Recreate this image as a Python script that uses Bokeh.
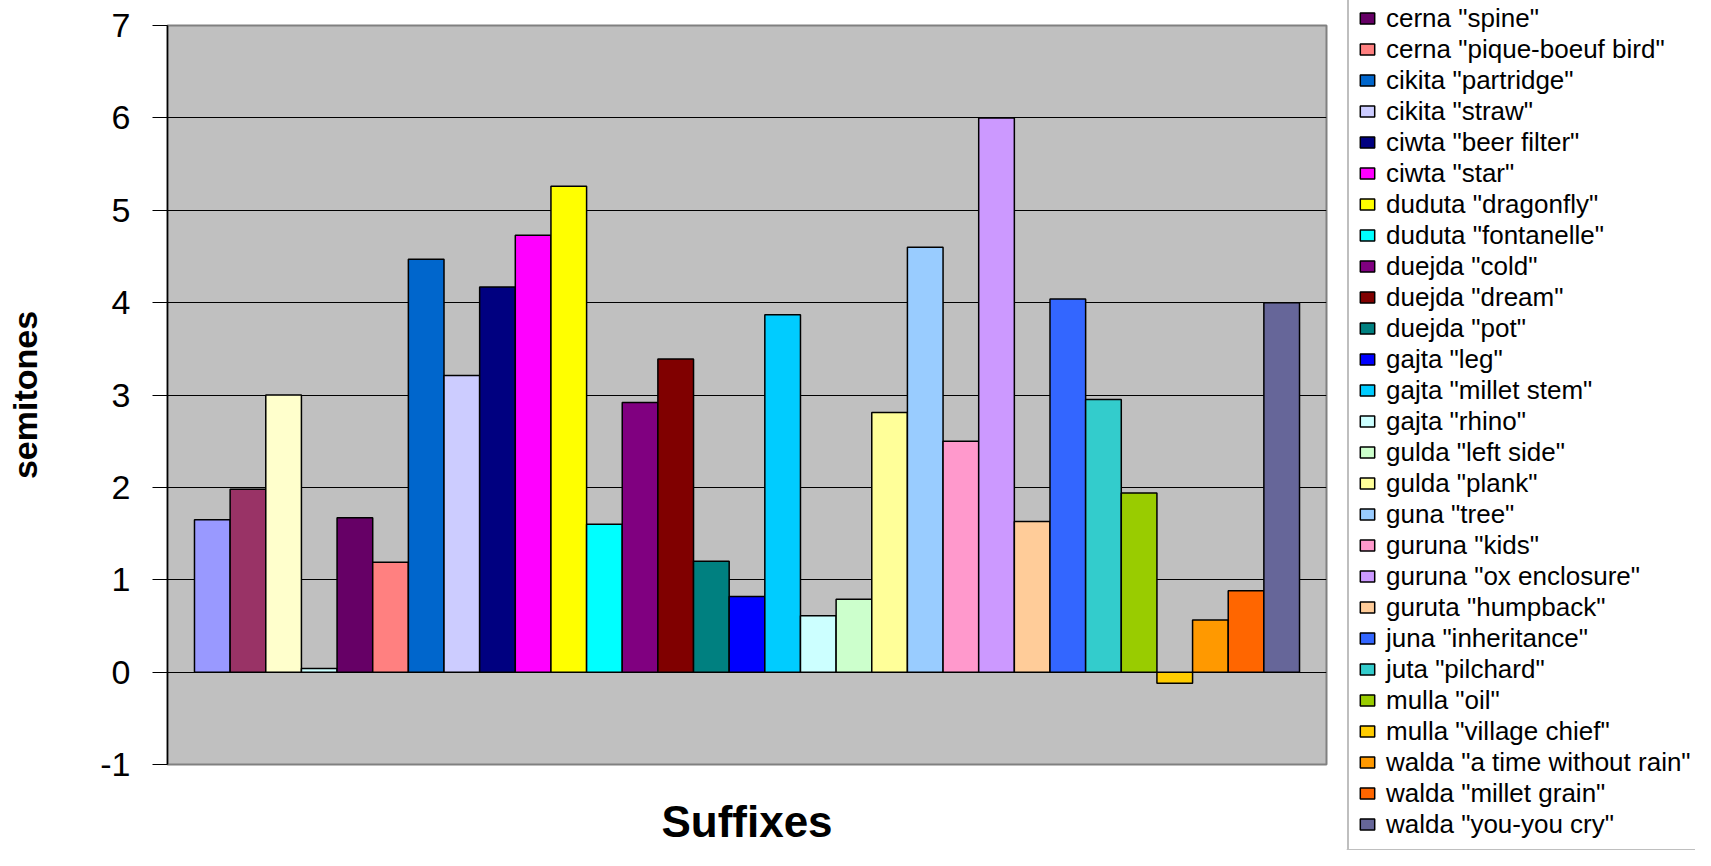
from bokeh.plotting import figure
from bokeh.models import (ColumnDataSource, Range1d, FixedTicker, Legend, LegendItem,
                          PrintfTickFormatter)
from bokeh.layouts import row
from bokeh.embed import file_html
from bokeh.resources import INLINE

# The first four series' legend entries are cut off in the reference (names not visible)
hidden_count = 4
series_names = [
    'cerna "spine"', 'cerna "pique-boeuf bird"', 'cikita "partridge"', 'cikita "straw"',
    'ciwta "beer filter"', 'ciwta "star"', 'duduta "dragonfly"', 'duduta "fontanelle"',
    'duejda "cold"', 'duejda "dream"', 'duejda "pot"', 'gajta "leg"',
    'gajta "millet stem"', 'gajta "rhino"', 'gulda "left side"', 'gulda "plank"',
    'guna "tree"', 'guruna "kids"', 'guruna "ox enclosure"', 'guruta "humpback"',
    'juna "inheritance"', 'juta "pilchard"', 'mulla "oil"', 'mulla "village chief"',
    'walda "a time without rain"', 'walda "millet grain"', 'walda "you-you cry"',
]
values = [1.65, 1.98, 3.00, 0.04,
          1.67, 1.19, 4.47, 3.21, 4.17, 4.73, 5.26, 1.60, 2.92, 3.39, 1.20, 0.82,
          3.87, 0.61, 0.79, 2.81, 4.60, 2.50, 6.00, 1.63, 4.04, 2.95, 1.94, -0.12,
          0.565, 0.88, 4.00]
colors = ["#9999FF", "#993366", "#FFFFCC", "#CCFFFF", "#660066", "#FF8080", "#0066CC",
          "#CCCCFF", "#000080", "#FF00FF", "#FFFF00", "#00FFFF", "#800080", "#800000",
          "#008080", "#0000FF", "#00CCFF", "#CCFFFF", "#CCFFCC", "#FFFF99", "#99CCFF",
          "#FF99CC", "#CC99FF", "#FFCC99", "#3366FF", "#33CCCC", "#99CC00", "#FFCC00",
          "#FF9900", "#FF6600", "#666699"]
y_ticks = [-1, 0, 1, 2, 3, 4, 5, 6, 7]

n = len(values)
src = ColumnDataSource(dict(x=list(range(n)), top=values, color=colors))

FONT = "Liberation Sans"
H = 850
TOP, BOTTOM = 25, 86

# ---------------- main chart ----------------
p = figure(width=1346, height=H, output_backend="svg", toolbar_location=None,
           x_range=Range1d(-1.257, n - 1 + 1.257), y_range=Range1d(-1, 7),
           min_border_left=167, min_border_right=20, min_border_top=TOP,
           min_border_bottom=BOTTOM)
p.frame_align = False
p.title.visible = False
p.background_fill_color = "#C0C0C0"
p.border_fill_color = "white"
p.outline_line_color = "#808080"
p.outline_line_width = 2

r = p.vbar(x="x", top="top", bottom=0, width=1.0, fill_color="color",
           line_color="black", line_width=1.5, source=src)

p.xgrid.visible = False
p.ygrid.grid_line_color = "black"
p.ygrid.grid_line_width = 1
p.ygrid.ticker = FixedTicker(ticks=y_ticks)

ya = p.yaxis[0]
ya.ticker = FixedTicker(ticks=y_ticks)
ya.formatter = PrintfTickFormatter(format="%d")
ya.major_tick_out = 15
ya.major_tick_in = 0
ya.minor_tick_out = 0
ya.minor_tick_in = 0
ya.axis_line_color = "black"
ya.axis_line_width = 1.5
ya.major_tick_line_color = "black"
ya.major_label_text_font = FONT
ya.major_label_text_font_size = "34px"
ya.major_label_text_color = "black"
ya.major_label_standoff = 22
ya.axis_label = "semitones"
ya.axis_label_text_font = FONT
ya.axis_label_text_font_style = "bold"
ya.axis_label_text_font_size = "34px"
ya.axis_label_text_color = "black"
ya.axis_label_standoff = 53

xa = p.xaxis[0]
xa.ticker = FixedTicker(ticks=[])
xa.major_tick_out = 0
xa.major_tick_in = 0
xa.minor_tick_out = 0
xa.minor_tick_in = 0
xa.axis_line_color = None
xa.major_label_text_font_size = "0px"
xa.major_label_standoff = 0
xa.axis_label = "Suffixes"
xa.axis_label_text_font = FONT
xa.axis_label_text_font_style = "bold"
xa.axis_label_text_font_size = "44px"
xa.axis_label_text_color = "black"
xa.axis_label_standoff = 32

# ---------------- legend panel ----------------
LW = 1695 - 1346
pl = figure(width=LW, height=H, output_backend="svg", toolbar_location=None,
            x_range=Range1d(0, 1), y_range=Range1d(1000, 1001),
            x_axis_location=None, y_axis_location=None,
            min_border=0, min_border_left=0, min_border_right=0,
            min_border_top=0, min_border_bottom=0)
pl.frame_align = False
pl.title.visible = False
pl.xgrid.visible = False
pl.ygrid.visible = False
pl.outline_line_color = None
pl.background_fill_color = "white"
pl.border_fill_color = "white"
# legend swatches share the bar data source (glyphs themselves fall out of view here)
rl = pl.vbar(x="x", top="top", bottom=0, width=1.0, fill_color="color",
             line_color="black", line_width=1.5, source=src)

LABEL_H, PAD = 31, 9
first_center = 20
legend_top = first_center - LABEL_H / 2 - PAD
legend_h = len(series_names) * LABEL_H + 2 * PAD
frame_bottom = H
items = [LegendItem(label=name, renderers=[rl], index=hidden_count + i)
         for i, name in enumerate(series_names)]
legend = Legend(items=items, location=(1, frame_bottom - (legend_top + legend_h)),
                orientation="vertical",
                label_text_font=FONT, label_text_font_size="26px",
                label_text_color="black", label_height=LABEL_H, label_standoff=10,
                glyph_width=18, glyph_height=14, spacing=0, padding=PAD, margin=0,
                border_line_color="#808080", border_line_width=2,
                background_fill_color="white", background_fill_alpha=1.0)
pl.add_layout(legend)

layout = row(p, pl, spacing=0)
open("out.html", "w").write(file_html(layout, INLINE))
